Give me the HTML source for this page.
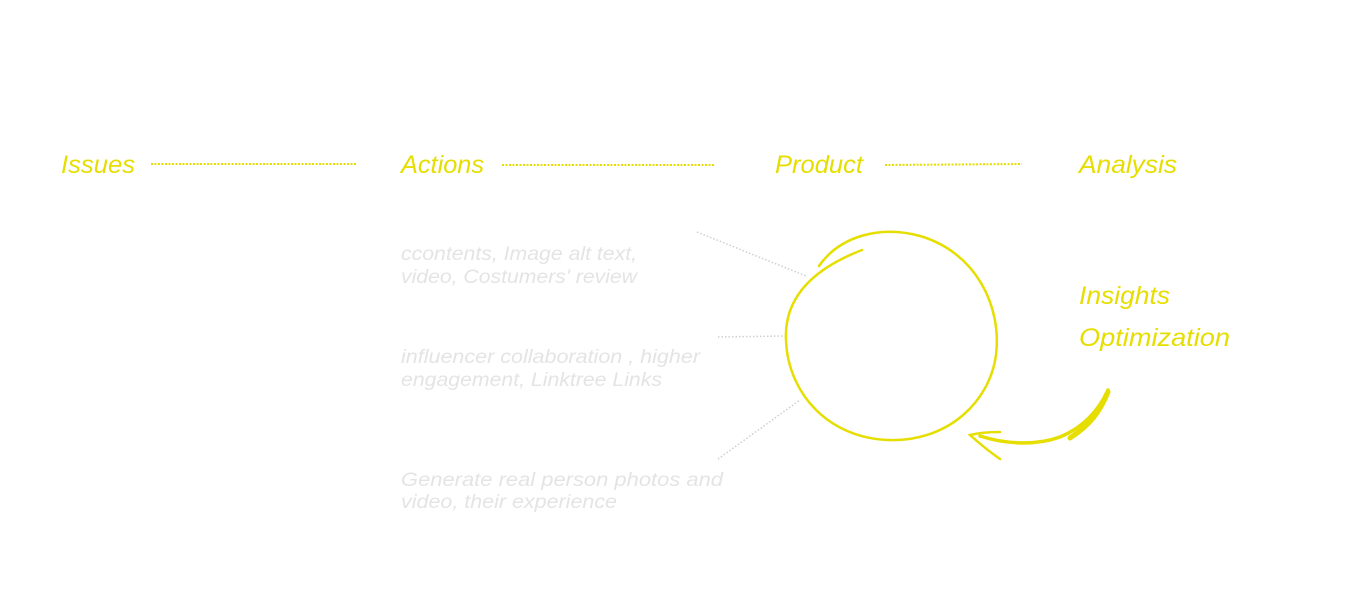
<!DOCTYPE html>
<html><head><meta charset="utf-8"><style>
html,body{margin:0;padding:0;background:#fff;width:1366px;height:600px;overflow:hidden}
svg{display:block}
text{font-family:"Liberation Sans",sans-serif;font-style:italic}
.y{fill:#e6de00;font-size:25px}
.g{fill:#e4e4e4;font-size:19px}
</style></head><body>
<svg width="1366" height="600" viewBox="0 0 1366 600" xmlns="http://www.w3.org/2000/svg">
<text class="y" x="61" y="173" textLength="74" lengthAdjust="spacingAndGlyphs">Issues</text>
<text class="y" x="401" y="173" textLength="83" lengthAdjust="spacingAndGlyphs">Actions</text>
<text class="y" x="775" y="173" textLength="88" lengthAdjust="spacingAndGlyphs">Product</text>
<text class="y" x="1079" y="173" textLength="98" lengthAdjust="spacingAndGlyphs">Analysis</text>
<g stroke="#e6de00" stroke-width="2" stroke-dasharray="2 1.5">
<line x1="151" y1="164" x2="357" y2="164"/>
<line x1="502" y1="165" x2="715" y2="165"/>
<line x1="885" y1="165" x2="1022" y2="164"/>
</g>
<text class="y" x="1079" y="304" textLength="91" lengthAdjust="spacingAndGlyphs">Insights</text>
<text class="y" x="1079" y="346" textLength="151" lengthAdjust="spacingAndGlyphs">Optimization</text>
<text class="g" x="401" y="260" textLength="236" lengthAdjust="spacingAndGlyphs">ccontents, Image alt text,</text>
<text class="g" x="401" y="283" textLength="236" lengthAdjust="spacingAndGlyphs">video, Costumers' review</text>
<text class="g" x="401" y="363" textLength="299" lengthAdjust="spacingAndGlyphs">influencer collaboration , higher</text>
<text class="g" x="401" y="386" textLength="261" lengthAdjust="spacingAndGlyphs">engagement, Linktree Links</text>
<text class="g" x="401" y="486" textLength="322" lengthAdjust="spacingAndGlyphs">Generate real person photos and</text>
<text class="g" x="401" y="508" textLength="216" lengthAdjust="spacingAndGlyphs">video, their experience</text>
<g stroke="#cfcfcf" stroke-width="1.5" stroke-dasharray="1.5 2" fill="none">
<line x1="697" y1="232" x2="806" y2="276"/>
<line x1="718" y1="337" x2="785" y2="336"/>
<line x1="718" y1="459" x2="800" y2="400"/>
</g>
<g fill="none" stroke="#e6de00" stroke-linecap="round">
<path d="M819 266 C840 236 880 225 920 236 C975 252 1002 305 996 355 C990 400 950 442 888 440 C830 438 788 395 786 340 C784 300 810 270 862 250" stroke-width="2.5"/>
<path d="M1108 390 C1098 412 1082 428 1060 437 C1035 446 1005 444 980 436" stroke-width="3.5"/>
<path d="M1000 432 C988 432 978 433 970 435 C980 444 990 452 1000 459" stroke-width="2.5"/>
<path d="M1108 392 C1100 412 1090 425 1070 438" stroke-width="5"/>
</g>
</svg>
</body></html>
